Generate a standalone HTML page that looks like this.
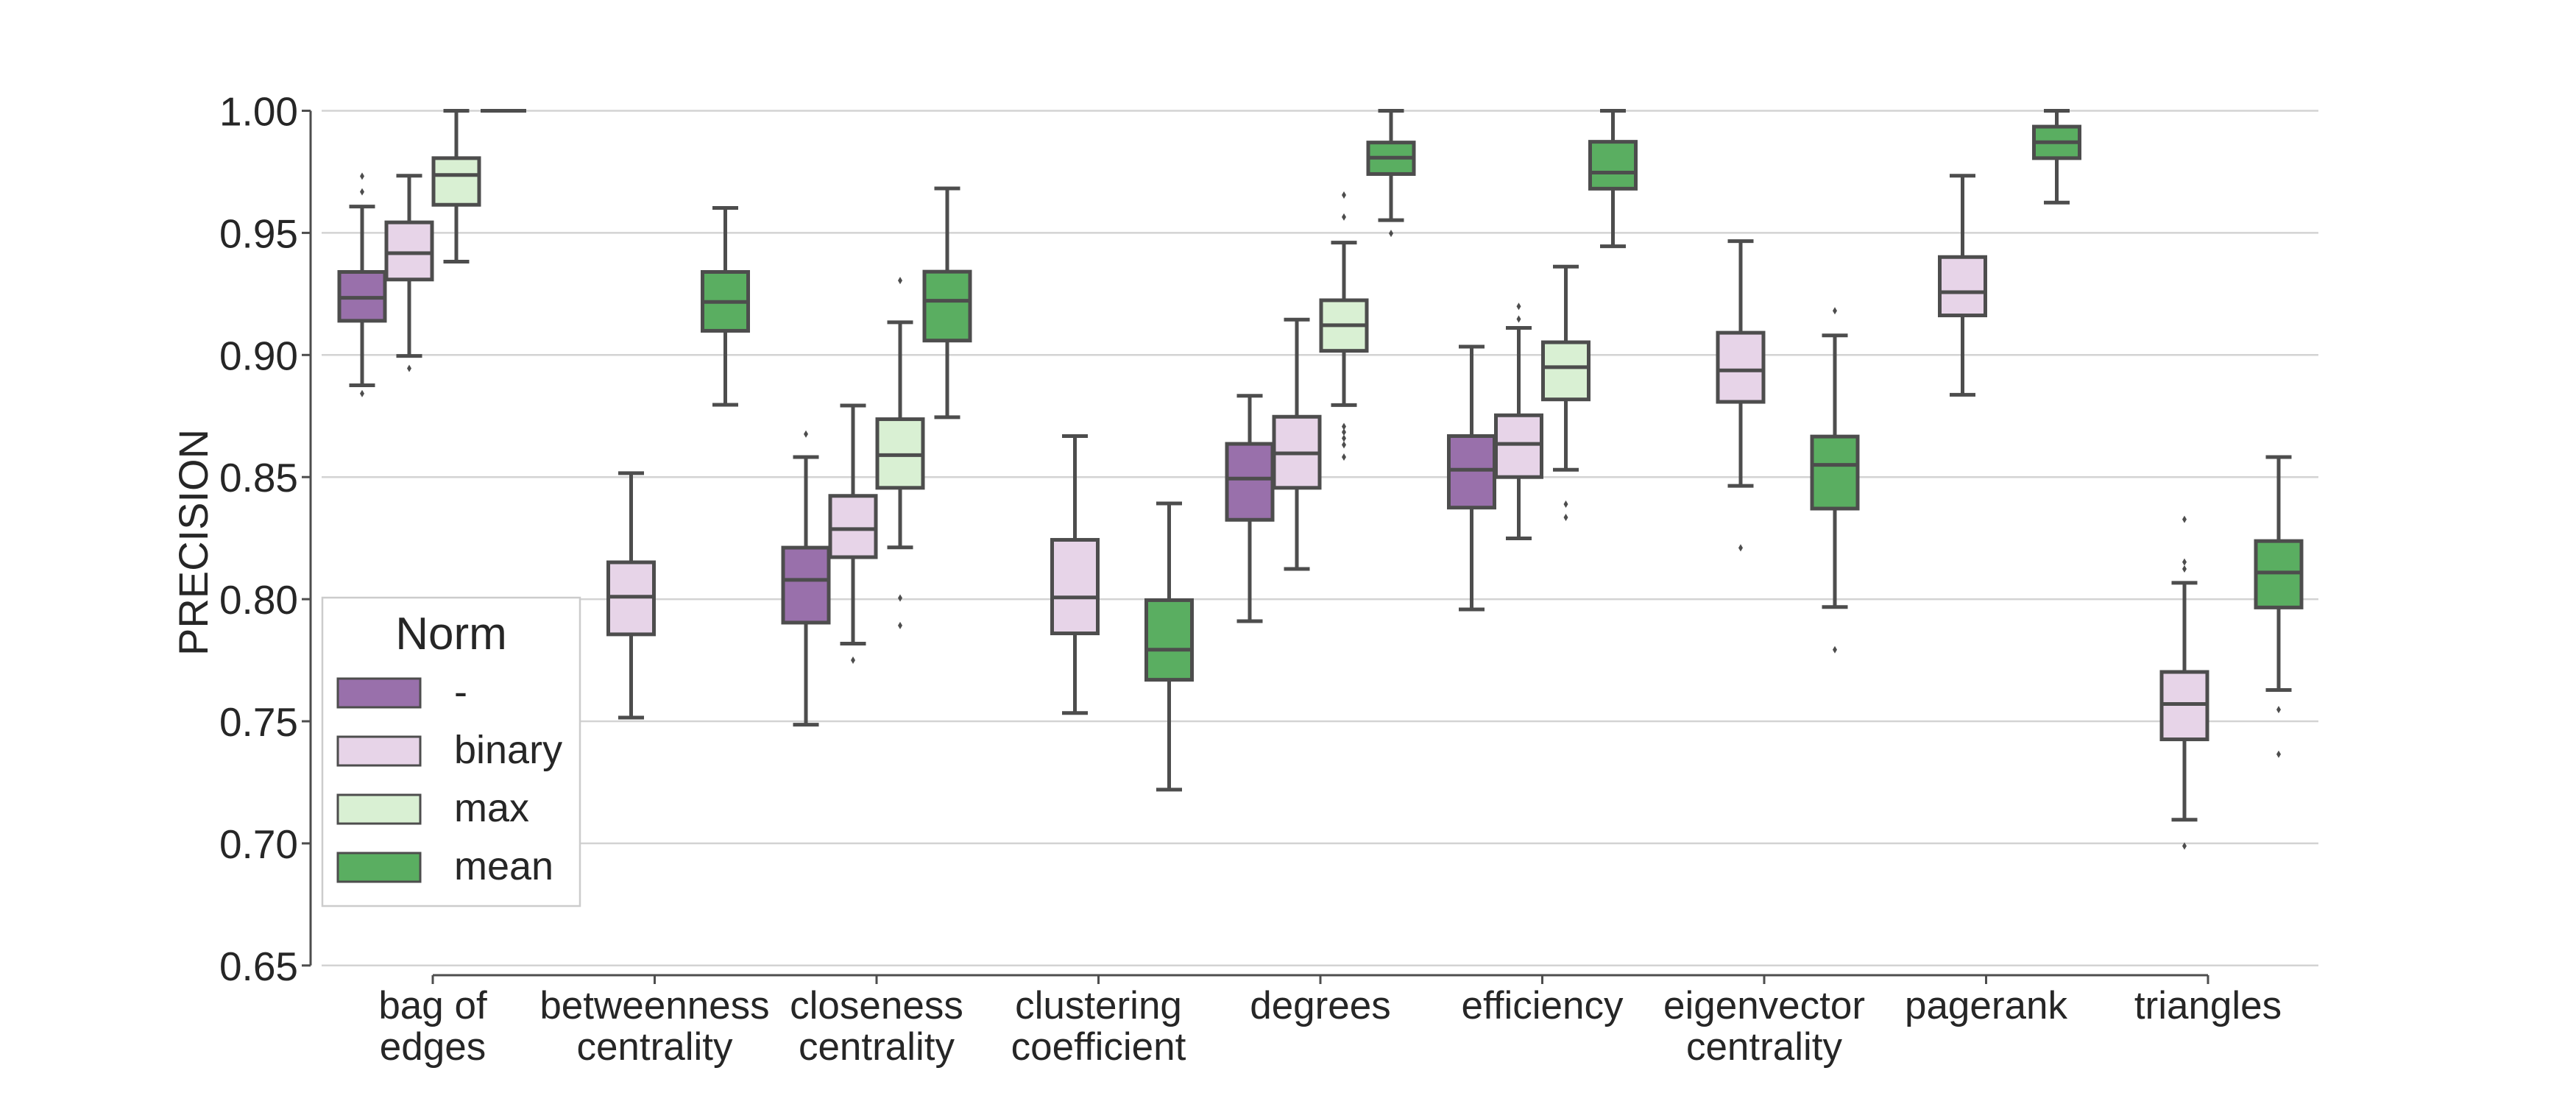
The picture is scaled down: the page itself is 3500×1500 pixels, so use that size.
<!DOCTYPE html>
<html><head><meta charset="utf-8"><style>
html,body{margin:0;padding:0;background:#fff;}
svg{display:block;font-family:"Liberation Sans",Arial,sans-serif;}
</style></head><body>
<svg id="chart" width="3500" height="1500" viewBox="0 0 3500 1500" xmlns="http://www.w3.org/2000/svg">
<rect width="3500" height="1500" fill="#fff"/>
<g id="grid"></g><g id="axes"></g><g id="boxes"></g><g id="legend"></g>
</svg>
<script>
const categories = [["bag of","edges"],["betweenness","centrality"],["closeness","centrality"],["clustering","coefficient"],["degrees"],["efficiency"],["eigenvector","centrality"],["pagerank"],["triangles"]];
const hues = ["-","binary","max","mean"];
const hueColors = ["#9970ab","#e7d4e8","#d9f0d3","#5aae61"];
const yTicks = [0.65,0.70,0.75,0.80,0.85,0.90,0.95,1.00];
const yTickLabels = ["0.65","0.70","0.75","0.80","0.85","0.90","0.95","1.00"];
// each: [category, hue, whiskerLow, q1, median, q3, whiskerHigh, outliers]
const boxStats = [
 [0,0,0.8876,0.914,0.9234,0.934,0.9608,[0.9732,0.9668,0.8842]],
 [0,1,0.8996,0.9309,0.9417,0.9543,0.9734,[0.8945]],
 [0,2,0.9382,0.9615,0.9737,0.9806,1.0,[]],
 [0,3,1.0,1.0,1.0,1.0,1.0,[]],
 [1,1,0.7515,0.7856,0.801,0.8151,0.8516,[]],
 [1,3,0.8796,0.9099,0.9217,0.934,0.9602,[]],
 [2,0,0.7486,0.7904,0.8079,0.8211,0.8582,[0.8676]],
 [2,1,0.7818,0.8172,0.8287,0.8423,0.8793,[0.775]],
 [2,2,0.8212,0.8456,0.859,0.8737,0.9134,[0.9305,0.8005,0.7892]],
 [2,3,0.8745,0.9059,0.9222,0.9341,0.9682,[]],
 [3,1,0.7534,0.786,0.8007,0.8243,0.8668,[]],
 [3,3,0.722,0.767,0.7793,0.7996,0.8392,[]],
 [4,0,0.791,0.8325,0.8494,0.8636,0.8833,[]],
 [4,1,0.8124,0.8456,0.8597,0.8747,0.9145,[]],
 [4,2,0.8795,0.9017,0.9122,0.9224,0.946,[0.9655,0.9565,0.8707,0.8684,0.8659,0.8632,0.8582]],
 [4,3,0.9552,0.9741,0.9808,0.987,1.0,[0.9498]],
 [5,0,0.7958,0.8375,0.853,0.8668,0.9034,[]],
 [5,1,0.8249,0.85,0.8636,0.8753,0.9111,[0.9199,0.9147]],
 [5,2,0.853,0.8818,0.895,0.9052,0.9362,[0.8389,0.8335]],
 [5,3,0.9445,0.9681,0.9747,0.9873,1.0,[]],
 [6,1,0.8464,0.8808,0.8937,0.9091,0.9466,[0.821]],
 [6,3,0.7968,0.8371,0.855,0.8666,0.908,[0.9181,0.7793]],
 [7,1,0.8837,0.9162,0.9257,0.9401,0.9734,[]],
 [7,3,0.9624,0.9806,0.9871,0.9935,1.0,[]],
 [8,1,0.7097,0.7426,0.7571,0.7702,0.8067,[0.8327,0.8152,0.8124,0.6989]],
 [8,3,0.7628,0.7966,0.8109,0.8238,0.8582,[0.7548,0.7365]]
];
const NS="http://www.w3.org/2000/svg";
function y(v){return 150.5+(1.0-v)/0.05*165.9;}
function xc(i){return 588+i*301.5;}
function hx(i,h){return xc(i)+(h-1.5)*64;}
function mk(tag,attrs,parent){const e=document.createElementNS(NS,tag);for(const k in attrs)e.setAttribute(k,attrs[k]);parent.appendChild(e);return e;}
const grid=document.getElementById('grid'),axes=document.getElementById('axes'),boxes=document.getElementById('boxes'),legend=document.getElementById('legend');
const LC="#4d4d4d";
yTicks.forEach((t,k)=>{
  const g=mk('line',{x1:437,x2:3150,y1:y(t),y2:y(t),stroke:"#d3d3d3","stroke-width":2.5},grid);
  
  
  const tk=mk('line',{x1:410,x2:422,y1:y(t),y2:y(t),stroke:LC,"stroke-width":3},axes);
  
  
  const tx=mk('text',{x:405,y:y(t)+20,"text-anchor":"end","font-size":55,fill:"#262626"},axes);
  tx.textContent=yTickLabels[k];
  
  
});
const ys=mk('line',{x1:422,x2:422,y1:y(1.0),y2:y(0.65),stroke:LC,"stroke-width":3},axes);


const xs=mk('line',{x1:xc(0),x2:xc(categories.length-1),y1:1325,y2:1325,stroke:LC,"stroke-width":3},axes);


categories.forEach((c,i)=>{
  const tk=mk('line',{x1:xc(i),x2:xc(i),y1:1325,y2:1337,stroke:LC,"stroke-width":3},axes);
  
  
  c.forEach((line,j)=>{
    const t=mk('text',{x:xc(i),y:1384+j*56,"text-anchor":"middle","font-size":53,fill:"#262626"},axes);
    t.textContent=line;
    
    
  });
});
const yl=mk('text',{x:0,y:0,transform:"translate(282,737) rotate(-90)","text-anchor":"middle","font-size":56,fill:"#262626"},axes);
yl.textContent="PRECISION";


const BW=62,CW=35;
boxStats.forEach(s=>{
  const [ci,h,lo,q1,med,q3,hi,outs]=s;
  const cx=hx(ci,h);
  const g=mk('g',{},boxes);
  
  
  const st={stroke:LC,"stroke-width":5};
  mk('line',Object.assign({x1:cx,x2:cx,y1:y(hi),y2:y(q3)},st),g);
  mk('line',Object.assign({x1:cx,x2:cx,y1:y(q1),y2:y(lo)},st),g);
  mk('line',Object.assign({x1:cx-CW/2,x2:cx+CW/2,y1:y(hi),y2:y(hi)},st),g);
  mk('line',Object.assign({x1:cx-CW/2,x2:cx+CW/2,y1:y(lo),y2:y(lo)},st),g);
  if(q3>q1) mk('rect',Object.assign({x:cx-BW/2,y:y(q3),width:BW,height:y(q1)-y(q3),fill:hueColors[h]},st),g);
  mk('line',Object.assign({x1:cx-BW/2,x2:cx+BW/2,y1:y(med),y2:y(med)},st),g);
  outs.forEach(o=>{
    const p=mk('path',{d:`M${cx},${y(o)-5} L${cx+3},${y(o)} L${cx},${y(o)+5} L${cx-3},${y(o)} Z`,fill:LC},g);
    
    
  });
});
// legend
const lf=mk('rect',{x:438,y:812,width:350,height:419,fill:"#fff",stroke:"#cccccc","stroke-width":2.5},legend);


const lt=mk('text',{x:613,y:882,"text-anchor":"middle","font-size":62,fill:"#262626"},legend);
lt.textContent="Norm";


hues.forEach((hn,k)=>{
  const yy=922+k*79;
  const e=mk('g',{},legend);
  
  
  mk('rect',{x:459,y:yy,width:112,height:39,fill:hueColors[k],stroke:LC,"stroke-width":3},e);
  const t=mk('text',{x:617,y:yy+36,"font-size":54,fill:"#262626"},e);
  t.textContent=hn;
});
</script>
</body></html>
